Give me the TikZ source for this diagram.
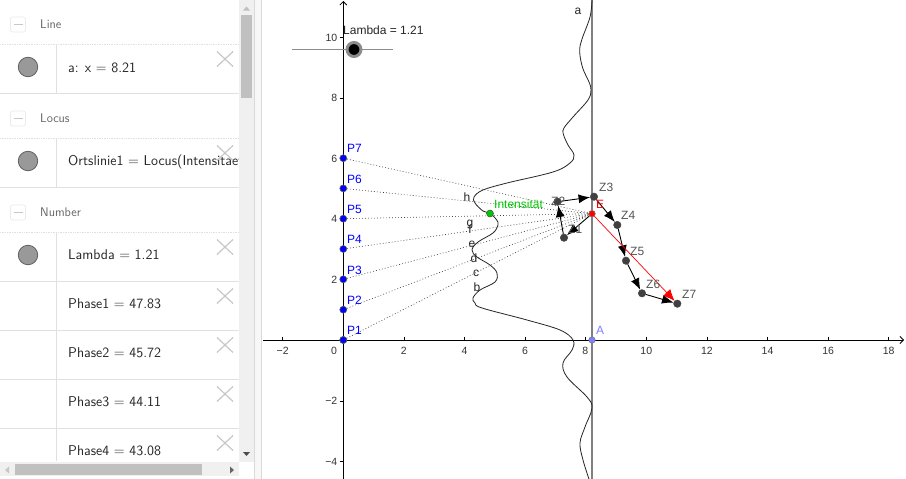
\documentclass[tikz,border=0pt]{standalone}
\usepackage{fontspec}
\setmainfont{Liberation Sans}
\usetikzlibrary{arrows.meta}
\definecolor{sep}{HTML}{E0E0E0}
\definecolor{marble}{HTML}{999999}
\definecolor{zdark}{HTML}{404040}
\definecolor{zgray}{HTML}{555555}
\definecolor{ablue}{HTML}{8080FF}
\definecolor{igreen}{HTML}{00C800}
\definecolor{track}{HTML}{F0F0F0}
\definecolor{thumb}{HTML}{C0C0C0}
\tikzset{
  pt11/.style={font=\fontsize{12}{14}\selectfont},
  ticklab/.style={font=\fontsize{10.5}{12}\selectfont,text=black!80,inner sep=0pt},
  rowtext/.style={font=\sffamily\fontsize{14.2}{16}\selectfont,anchor=west,inner sep=0pt,text=black!85},
  headtext/.style={font=\sffamily\fontsize{12.5}{14}\selectfont,anchor=west,inner sep=0pt,text=black!60},
  marblenode/.style={circle,draw=black!65,fill=marble,line width=.7pt,minimum size=19.5pt,inner sep=0pt},
  pblue/.style={circle,draw=black!65,fill=blue,line width=.6pt,minimum size=7pt,inner sep=0pt},
  zpt/.style={circle,fill=zdark,draw=black!75,line width=.4pt,minimum size=7.5pt,inner sep=0pt},
  plab/.style={pt11,text=blue,anchor=west,inner sep=0pt},
  zlab/.style={pt11,text=zgray,anchor=west,inner sep=0pt},
  seglab/.style={pt11,text=black!85,inner sep=0pt},
  ray/.style={line width=.6pt,black!75,dash pattern=on .9pt off 2.1pt},
  vec/.style={line width=.9pt,black,-{Latex[length=11.5pt,width=9pt]}},
}
\newcommand{\xmark}[2]{\draw[line width=1.2pt,black!22] (#1-8,#2-7.5) -- (#1+8,#2+7.5) (#1-8,#2+7.5) -- (#1+8,#2-7.5);}
\begin{document}
\begin{tikzpicture}[x=1pt,y=-1pt]
\useasboundingbox (0,0) rectangle (906,479);
\fill[white] (0,0) rectangle (906,479);
% ---- panel separators
\draw[sep,line width=.7pt,densely dotted] (0,44.5) -- (239,44.5) (0,138.5) -- (239,138.5) (0,232.5) -- (239,232.5);
\draw[sep,line width=.8pt] (0,93) -- (239,93) (0,187) -- (239,187) (0,281) -- (239,281) (0,330) -- (239,330) (0,379) -- (239,379) (0,428) -- (239,428);
\draw[sep,line width=.8pt] (56.5,44.5) -- (56.5,93) (56.5,138.5) -- (56.5,187) (56.5,232.5) -- (56.5,461);
% group heads
\foreach \n/\y/\t in {a/24.5/Line,b/118.5/Locus,c/212.5/Number}{
  \node[draw=black!8,rounded corners=2pt,minimum size=15pt,inner sep=0pt,line width=.7pt] (box\n) at (18,\y) {};
  \draw[black!22,line width=1.3pt] (13.5,\y) -- (22.5,\y);
  \node[headtext] (head\n) at (40,\y) {\t};
}
\node[marblenode] (ma) at (28,67) {};
\node[marblenode] (mb) at (28,161) {};
\node[marblenode] (mc) at (28,255) {};
\node[rowtext] (r1) at (68,67.5) {a: x = 8.21};
\begin{scope}
\clip (60,140) rectangle (239,186);
\node[rowtext] (r2) at (68,161.5) {Ortslinie1 = Locus(Intensitaet, Lambda)};
\end{scope}
\node[rowtext] (r3) at (68,255) {Lambda = 1.21};
\node[rowtext] (r4) at (68,304) {Phase1 = 47.83};
\node[rowtext] (r5) at (68,353) {Phase2 = 45.72};
\node[rowtext] (r6) at (68,402) {Phase3 = 44.11};
\node[rowtext] (r7) at (68,451) {Phase4 = 43.08};
\foreach \y in {59,153,247,296,345,394,443}{\xmark{225}{\y}}
% ---- scrollbars
\fill[track] (239,0) rectangle (254,461.5);
\fill[thumb] (241,15) rectangle (252,98);
\fill[black!25] (243,10.5) -- (250,10.5) -- (246.5,6.5) -- cycle;
\fill[black!70] (243,452) -- (250,452) -- (246.5,456) -- cycle;
\fill[track] (0,461.5) rectangle (239,476);
\fill[thumb] (15,464) rectangle (202,475);
\fill[black!22] (9,466.5) -- (9,473.5) -- (5,470) -- cycle;
\fill[black!60] (230,466.5) -- (230,473.5) -- (234,470) -- cycle;
\fill[black!3] (254.5,0) rectangle (261,479);
\draw[black!15,line width=.8pt] (254.5,0) -- (254.5,479) (261,0) -- (261,479);
% ---- axes
\coordinate (xl) at (263,340);
\coordinate (xr) at (904,340);
\coordinate (yb) at (343.3,479);
\coordinate (yt) at (343.3,1);
\draw[black,line width=.8pt,-{Straight Barb[length=3.5pt,width=7pt]}] (xl) -- (xr);
\draw[black,line width=.8pt,-{Straight Barb[length=3.5pt,width=7pt]}] (yb) -- (yt);
\foreach \v in {-2,2,4,6,8,10,12,14,16,18}{
  \pgfmathsetmacro{\px}{343.3+30.3*\v}
  \draw[black,line width=.7pt] (\px,336.5) -- (\px,340);
}
\foreach \v/\t in {-2/−2,2/2,4/4,6/6,8/8,10/10,12/12,14/14,16/16,18/18}{
  \pgfmathsetmacro{\px}{343.3+30.3*\v}
  \node[ticklab] (tx\v) at (\ifnum\v=8 \px-0.5\else\px\fi,351) {\t};
}
\node[ticklab] (tx0) at (334,351) {0};
\foreach \v/\t in {-4/−4,-2/−2,2/2,4/4,6/6,8/8,10/10}{
  \pgfmathsetmacro{\py}{340.5-30.3*\v}
  \draw[black,line width=.7pt] (343.3,\py) -- (339.8,\py);
  \node[ticklab,anchor=east] (ty\v) at (337.5,\py) {\t};
}
% ---- line a
\draw[black!50,line width=1.6pt] (592,0) -- (592,479);
\node[seglab,text=black!85] (la) at (578,11) {a};
% ---- locus
\draw[black!85,line width=.8pt] plot[smooth,tension=.6] coordinates {
(592,0)(590,17)(581.7,40)(579.7,52)(582.7,68)(589,82)(591,90)(588,100)(573,117)(564,128)(563.3,134)(568,145)(574,155)(570,163)(553,172)(507,183)(483,190)(474,197)(475,203)(483,211)(490,213.3)(496.7,220)(498,225)(493,233)(478,242)(472,250)(477,257)(490,265)(497,273)(495,282)(480,290)(473,298)(475,303)(482,308)(527,320)(560,330)(573,340)(572,350)(563,363)(567,377)(587,397)(592,408)(585,427)(580,443)(583,460)(589,479)};
% ---- slider
\coordinate (sl) at (292,49.5);
\coordinate (sr) at (393,49.5);
\draw[black!45,line width=.8pt] (sl) -- (sr);
\node[circle,fill=black,draw=black!45,line width=3pt,minimum size=14pt,inner sep=0pt] (knob) at (354,49.5) {};
\node[pt11,text=black!85,anchor=west,inner sep=0pt] (slab) at (343,30) {Lambda = 1.21};
% ---- points
\foreach \i/\y in {1/340,2/309.7,3/279.3,4/249,5/218.7,6/188.4,7/158.2}{
  \node[pblue] (P\i) at (343.3,\y) {};
}
\node[circle,fill=red,draw=black!50,line width=.4pt,minimum size=6.5pt,inner sep=0pt] (E) at (592,213.7) {};
\node[zpt] (Z1) at (564,237.7) {};
\node[zpt] (Z2) at (557.5,201.7) {};
\node[zpt] (Z3) at (594,196.7) {};
\node[zpt] (Z4) at (617.3,225) {};
\node[zpt] (Z5) at (626,260.7) {};
\node[zpt] (Z6) at (642,293.3) {};
\node[zpt] (Z7) at (677.3,303.7) {};
\foreach \i in {1,...,7}{\draw[ray] (P\i) -- (E);}
% ---- segment labels
\node[seglab] (lb) at (477,287.5) {b};
\node[seglab] (lc) at (476,273) {c};
\node[seglab] (ld) at (474,258.5) {d};
\node[seglab] (le) at (472,244) {e};
\node[seglab] (lf) at (470,229) {f};
\node[seglab] (lg) at (470,225) {g};
\node[seglab] (lh) at (467,197.5) {h};
% ---- vectors
\draw[vec] (E) -- (Z1);
\draw[vec] (Z1) -- (Z2);
\draw[vec] (Z2) -- (Z3);
\draw[vec] (Z3) -- (Z4);
\draw[vec] (Z4) -- (Z5);
\draw[vec] (Z5) -- (Z6);
\draw[vec] (Z6) -- (Z7);
\draw[red,line width=.7pt,-{Latex[length=11.5pt,width=10pt]}] (E) -- (Z7);
% ---- redraw of points over lines
\node[pblue] (P1b) at (P1) {};
\node[circle,fill=red,draw=black!50,line width=.4pt,minimum size=6.5pt,inner sep=0pt] (Eb) at (E) {};
\node[circle,fill=igreen,draw=black!70,line width=.5pt,minimum size=7pt,inner sep=0pt] (I) at (490,213.5) {};
\node[circle,fill=ablue,draw=black!55,line width=.5pt,minimum size=6.5pt,inner sep=0pt] (A) at (592,340) {};
% ---- labels
\foreach \i/\y in {1/330.5,2/300,3/270,4/239.5,5/209,6/179,7/148}{
  \node[plab] (lP\i) at (347,\y) {P\i};
}
\node[zlab,text=red] (lE) at (596,204) {E};
\node[zlab] (lZ1) at (568,229) {Z1};
\node[zlab] (lZ2) at (551,201.5) {Z2};
\node[zlab] (lZ3) at (599,187.5) {Z3};
\node[zlab] (lZ4) at (621,215.5) {Z4};
\node[zlab] (lZ5) at (630,251) {Z5};
\node[zlab] (lZ6) at (646,284.5) {Z6};
\node[zlab] (lZ7) at (682,294.5) {Z7};
\node[pt11,text=igreen,anchor=west,inner sep=0pt] (lI) at (494,204) {Intensität};
\node[pt11,text=ablue,anchor=west,inner sep=0pt] (lA) at (596,330) {A};
\end{tikzpicture}
\end{document}
